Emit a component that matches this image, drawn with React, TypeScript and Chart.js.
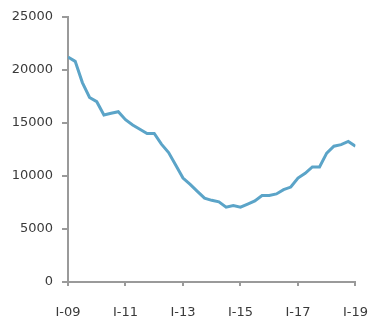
import React, { useEffect, useRef } from "react";
import { Chart, registerables } from "chart.js";

Chart.register(...registerables);

const tickLabels = ["I-09", "I-11", "I-13", "I-15", "I-17", "I-19"];
const quarters = 41; // Q1 2009 .. Q1 2019
const values = [
  21200, 20800, 18800, 17400, 17000, 15750, 15900, 16050, 15300, 14800,
  14400, 14000, 14000, 13000, 12200, 11000, 9800, 9200, 8550, 7900,
  7700, 7550, 7050, 7200, 7050, 7350, 7650, 8150, 8150, 8300,
  8700, 8950, 9800, 10250, 10850, 10850, 12150, 12800, 12950, 13250,
  12800,
];
const yTicks = [0, 5000, 10000, 15000, 20000, 25000];

const FONT = { family: "'DejaVu Sans', sans-serif", size: 13 };
const AXIS = "#9a9a9a";
const TEXT = "#3a3a3a";

export default function App() {
  const ref = useRef<HTMLCanvasElement>(null);
  useEffect(() => {
    if (!ref.current) return;
    const chart = new Chart(ref.current, {
      type: "line",
      data: {
        datasets: [
          {
            data: values.map((v, i) => ({ x: i, y: v })),
            borderColor: "#5ba4c8",
            borderWidth: 3,
            pointRadius: 0,
            tension: 0,
            fill: false,
          },
        ],
      },
      options: {
        animation: false,
        responsive: false,
        layout: { padding: { top: 6, right: 29, left: 0, bottom: 0 } },
        plugins: { legend: { display: false }, tooltip: { enabled: false } },
        scales: {
          x: {
            type: "linear",
            min: 0,
            max: quarters - 1,
            afterBuildTicks: (s: any) => {
              s.ticks = tickLabels.map((_, i) => ({ value: i * 8 }));
            },
            ticks: {
              autoSkip: false,
              maxRotation: 0,
              font: FONT,
              color: TEXT,
              padding: 19,
              callback: (v: any) => tickLabels[Math.round(Number(v) / 8)] ?? "",
            },
            grid: {
              drawOnChartArea: false,
              drawTicks: true,
              tickLength: 4,
              color: AXIS,
              lineWidth: 2,
            },
            border: { display: true, color: AXIS, width: 2 },
            afterFit: (s: any) => {
              s.height = 44;
            },
          },
          y: {
            min: 0,
            max: 25000,
            afterBuildTicks: (s: any) => {
              s.ticks = yTicks.map((v) => ({ value: v }));
            },
            ticks: {
              font: FONT,
              color: TEXT,
              padding: 9,
              callback: (v: any) => String(v),
            },
            grid: {
              drawOnChartArea: false,
              drawTicks: true,
              tickLength: 6,
              color: AXIS,
              lineWidth: 2,
            },
            border: { display: true, color: AXIS, width: 2 },
            afterFit: (s: any) => {
              s.width = 68;
            },
          },
        },
      },
    });
    return () => chart.destroy();
  }, []);
  return (
    <div style={{ position: "fixed", left: 0, top: 0, width: 387, height: 326, background: "#fff" }}>
      <canvas ref={ref} width={387} height={326} />
    </div>
  );
}
